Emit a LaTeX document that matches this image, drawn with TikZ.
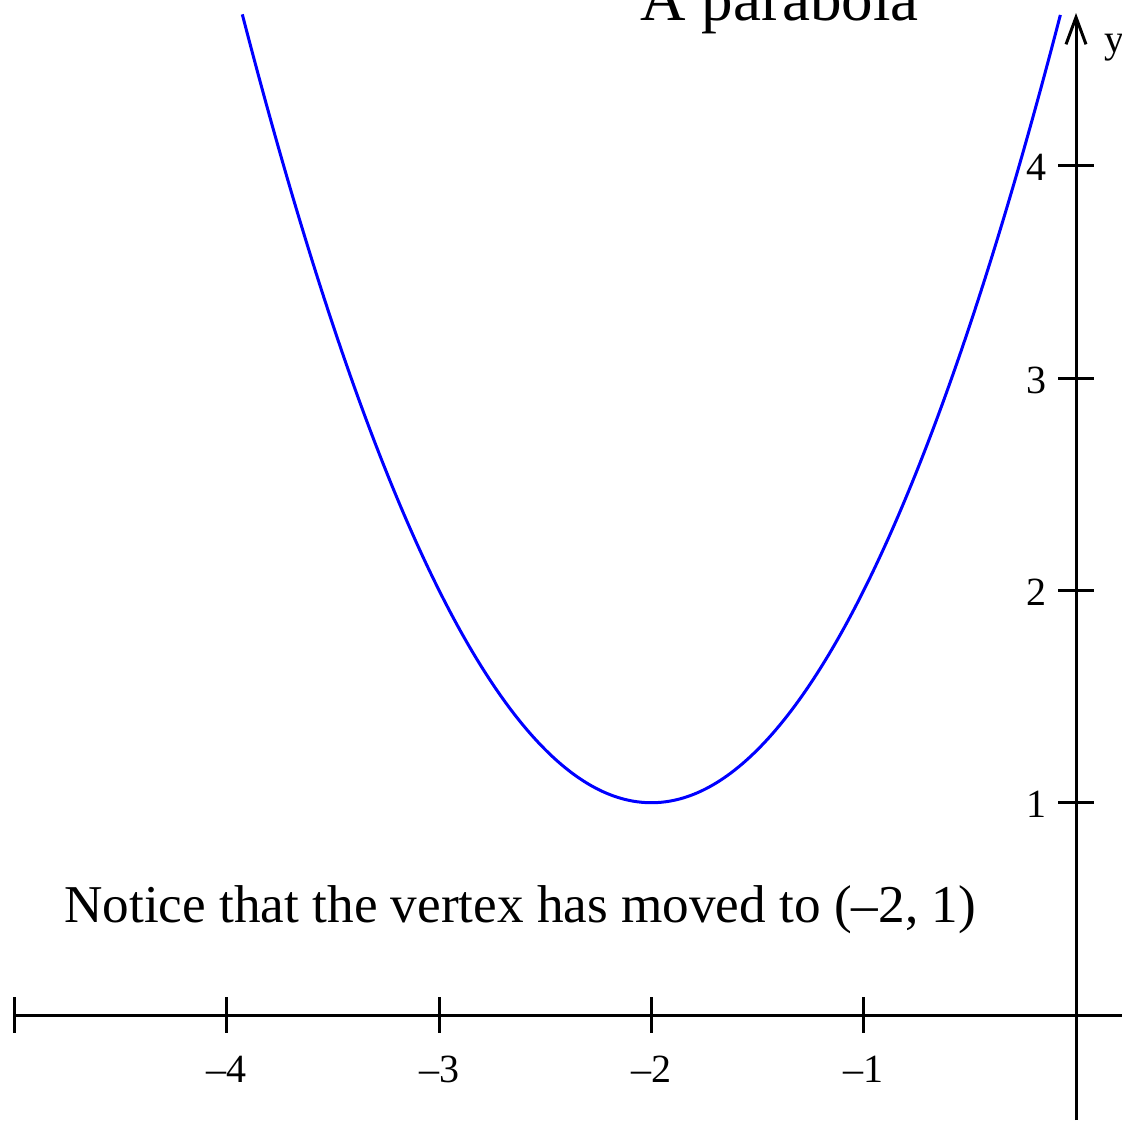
\documentclass[tikz,border=0pt]{standalone}
\usepackage{fontspec}
\setmainfont{Liberation Serif}
\usetikzlibrary{arrows.meta}
\begin{document}
\begin{tikzpicture}[x=0.5pt,y=-0.5pt,
  axis/.style={line width=1.5pt,black},
  tickline/.style={line width=1.5pt,black},
  ticklab/.style={font=\fontsize{20}{24}\selectfont,inner sep=0pt},
  curve/.style={line width=1.5pt,blue},
  bigtext/.style={font=\fontsize{26.6}{32}\selectfont,inner sep=0pt},
  titletext/.style={font=\fontsize{31.5}{38}\selectfont,inner sep=0pt}]
\useasboundingbox (0,0) rectangle (1122,1120);
% axes
\coordinate (xl) at (14.5,1015);
\coordinate (xr) at (1122,1015);
\coordinate (yb) at (1076,1120);
\coordinate (yt) at (1076,13);
\draw[axis] (xl) -- (xr);
\draw[axis,-{Straight Barb[length=13.5pt,width=10pt,line width=1.5pt]}] (yb) -- (yt);
% x ticks
\foreach \v in {-5,-4,-3,-2,-1} {
  \draw[tickline] ({1076+212.3*\v},997) -- ({1076+212.3*\v},1033);
}
\foreach \v in {-4,-3,-2,-1} {
  \node[ticklab,anchor=base] (xt\v) at ({1076+212.3*\v},1082) {–\the\numexpr-\v\relax};
}
% y ticks
\foreach \v in {1,2,3,4} {
  \draw[tickline] (1058,{1015-212.3*\v}) -- (1094,{1015-212.3*\v});
  \node[ticklab,anchor=base east] (yt\v) at (1047,{1015-212.3*\v+15}) {\v};
}
\node[ticklab,anchor=base west] (ylab) at (1104,52) {y};
% parabola
\draw[curve] plot[domain=-3.927:-0.073,samples=200,smooth]
  ({1076+212.3*\x},{1015-212.3*((\x+2)*(\x+2)+1)});
% texts
\node[titletext,anchor=base west] (title) at (640,20) {A parabola};
\node[bigtext,anchor=base west] (note) at (64,922) {Notice that the vertex has moved to (–2, 1)};
\end{tikzpicture}
\end{document}
